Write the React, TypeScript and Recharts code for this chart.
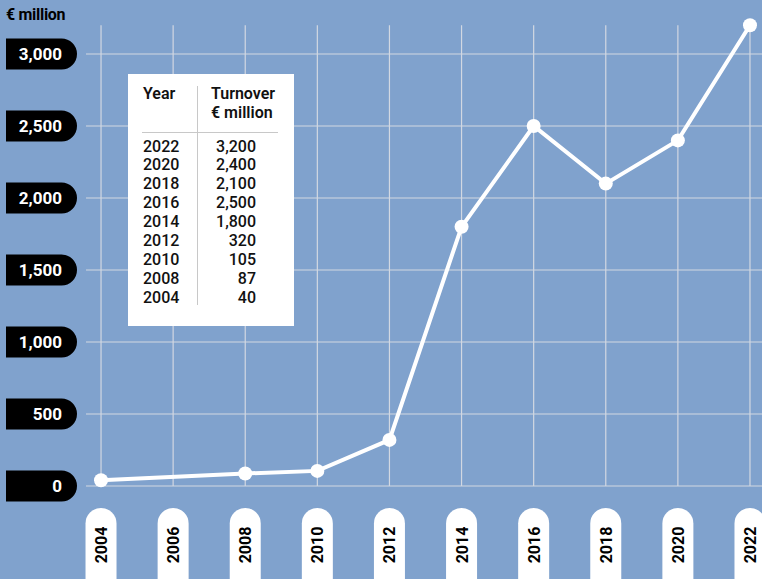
import React from "react";
import { LineChart, Line, XAxis, YAxis, ReferenceLine } from "recharts";

const years = [2004, 2008, 2010, 2012, 2014, 2016, 2018, 2020, 2022];
const turnover = [40, 87, 105, 320, 1800, 2500, 2100, 2400, 3200];
const xTicks = [2004, 2006, 2008, 2010, 2012, 2014, 2016, 2018, 2020, 2022];
const yTicks = [0, 500, 1000, 1500, 2000, 2500, 3000];

const BG = "#80a2cd";
const GRID = "#d2d8e2";
const FONT = "Roboto, 'Noto Sans', sans-serif";

const data = years.map((year, i) => ({ year, value: turnover[i] }));
const tableRows = years.map((y, i) => ({ year: y, value: turnover[i] })).reverse();

const fmt = (v: number) => v.toLocaleString("en-US");

const YTick = ({ y, payload }: any) => {
  const h = 31;
  const r = h / 2;
  const top = y - r;
  return (
    <g>
      <path
        d={`M6,${top} H${77 - r} A${r},${r} 0 0 1 ${77 - r},${top + h} H6 Z`}
        fill="#000"
      />
      <text x={62} y={y + 6} textAnchor="end" fill="#fff" fontFamily={FONT} fontWeight={700} fontSize={17}>
        {fmt(payload.value)}
      </text>
    </g>
  );
};

const XTick = ({ x, payload }: any) => {
  const w = 31;
  const r = w / 2;
  const top = 508;
  return (
    <g>
      <path
        d={`M${x - r},590 V${top + r} A${r},${r} 0 0 1 ${x + r},${top + r} V590 Z`}
        fill="#fff"
      />
      <text
        x={x}
        y={545}
        transform={`rotate(-90 ${x} 545)`}
        textAnchor="middle"
        dy={6}
        fill="#000"
        fontFamily={FONT}
        fontWeight={700}
        fontSize={16}
      >
        {payload.value}
      </text>
    </g>
  );
};

function TurnoverTable() {
  return (
    <div
      style={{
        position: "absolute",
        left: 128,
        top: 74,
        width: 166,
        height: 252,
        background: "#fff",
        fontFamily: FONT,
        color: "#111",
      }}
    >
      <div style={{ position: "absolute", left: 69, top: 12, width: 1, height: 219, background: "#c8c8c8" }} />
      <div style={{ position: "absolute", left: 14, top: 58, width: 136, height: 1, background: "#c8c8c8" }} />
      <div style={{ position: "absolute", left: 15, top: 11, fontSize: 16, fontWeight: 600, lineHeight: "18.5px" }}>Year</div>
      <div style={{ position: "absolute", left: 83, top: 11, fontSize: 16, fontWeight: 600, lineHeight: "18.5px" }}>
        Turnover
        <br />€ million
      </div>
      <div style={{ position: "absolute", left: 15, top: 63.5, fontSize: 16, fontWeight: 500, lineHeight: "18.9px" }}>
        {tableRows.map((r) => (
          <div key={r.year}>{r.year}</div>
        ))}
      </div>
      <div
        style={{
          position: "absolute",
          right: 38,
          top: 63.5,
          fontSize: 16,
          fontWeight: 500,
          lineHeight: "18.9px",
          textAlign: "right",
        }}
      >
        {tableRows.map((r) => (
          <div key={r.year}>{fmt(r.value)}</div>
        ))}
      </div>
    </div>
  );
}

export default function App() {
  return (
    <div
      style={{
        position: "fixed",
        left: 0,
        top: 0,
        width: 762,
        height: 579,
        background: BG,
        overflow: "hidden",
      }}
    >
      <div
        style={{
          position: "absolute",
          left: 6,
          top: 5,
          fontFamily: FONT,
          fontWeight: 700,
          fontSize: 16,
          letterSpacing: -0.3,
          color: "#000",
        }}
      >
        € million
      </div>
      <LineChart width={762} height={579} data={data} margin={{ top: 25.2, right: 0, bottom: 0, left: 0 }}>
        <XAxis
          dataKey="year"
          type="number"
          domain={[2004 - 15 / 36, 2022 + 12 / 36]}
          ticks={xTicks}
          axisLine={false}
          tickLine={false}
          height={93}
          tick={<XTick />}
          interval={0}
        />
        <YAxis
          type="number"
          domain={[0, 3200]}
          ticks={yTicks}
          axisLine={false}
          tickLine={false}
          width={86}
          tick={<YTick />}
          interval={0}
        />
        {yTicks.map((v) => (
          <ReferenceLine key={`y${v}`} y={v} stroke={GRID} strokeWidth={1.2} />
        ))}
        {xTicks.map((t) => (
          <ReferenceLine key={`x${t}`} x={t} stroke={GRID} strokeWidth={1.2} />
        ))}
        <Line
          type="linear"
          dataKey="value"
          stroke="#fff"
          strokeWidth={4}
          dot={{ r: 7, fill: "#fff", stroke: "#fff", strokeWidth: 0 }}
          isAnimationActive={false}
        />
      </LineChart>
      <TurnoverTable />
    </div>
  );
}
